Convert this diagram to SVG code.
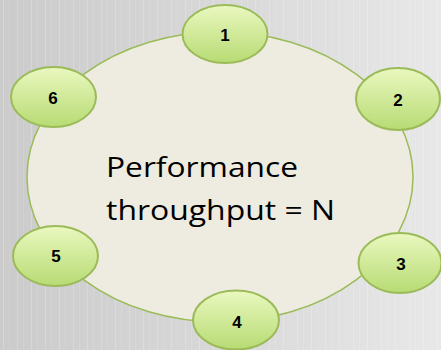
<svg xmlns="http://www.w3.org/2000/svg" width="441" height="350" viewBox="0 0 441 350">
  <defs>
    <linearGradient id="bg" x1="0" y1="0" x2="1" y2="0">
      <stop offset="0" stop-color="#cbcbcb"/>
      <stop offset="0.5" stop-color="#d8d8d8"/>
      <stop offset="1" stop-color="#e8e8e8"/>
    </linearGradient>
    <pattern id="stripes" x="0" y="0" width="14" height="350" patternUnits="userSpaceOnUse">
      <rect x="3" y="0" width="1" height="350" fill="#ffffff" opacity="0.2"/>
      <rect x="9" y="0" width="1" height="350" fill="#ffffff" opacity="0.1"/>
    </pattern>
    <linearGradient id="bubble" x1="0" y1="0" x2="0" y2="1">
      <stop offset="0" stop-color="#eaf8bf"/>
      <stop offset="1" stop-color="#b7db74"/>
    </linearGradient>
    <style>
      .hub { fill: #eeece1; stroke: #9bbb59; stroke-width: 1.5; }
      .node ellipse { fill: url(#bubble); stroke: #9bbb59; stroke-width: 2; }
      .node text { font-family: "Liberation Sans", Arial, sans-serif; font-weight: bold; font-size: 17px; fill: #000; text-anchor: middle; }
      .title { font-family: "Open Sans", "Noto Sans", sans-serif; font-size: 27px; fill: #000; }
    </style>
  </defs>

  <!-- backdrop -->
  <rect width="441" height="350" fill="url(#bg)"/>
  <rect width="441" height="350" fill="url(#stripes)"/>

  <!-- central cycle -->
  <g id="hub">
    <ellipse class="hub" cx="220" cy="177" rx="193" ry="145"/>
    <text class="title" x="106" y="177" textLength="192" lengthAdjust="spacingAndGlyphs">Performance</text>
    <text class="title" x="106" y="220" textLength="229" lengthAdjust="spacingAndGlyphs">throughput = N</text>
  </g>

  <g id="connectors"></g>

  <g id="node1" class="node">
    <ellipse cx="225" cy="34" rx="42.5" ry="29"/>
    <text x="225" y="41">1</text>
  </g>
  <g id="node2" class="node">
    <ellipse cx="398" cy="99" rx="42" ry="31"/>
    <text x="398" y="106">2</text>
  </g>
  <g id="node3" class="node">
    <ellipse cx="400" cy="263" rx="41.5" ry="30"/>
    <text x="401" y="270">3</text>
  </g>
  <g id="node4" class="node">
    <ellipse cx="236" cy="320" rx="43" ry="29.5"/>
    <text x="237" y="328">4</text>
  </g>
  <g id="node5" class="node">
    <ellipse cx="55.5" cy="256" rx="42.5" ry="30"/>
    <text x="56" y="262">5</text>
  </g>
  <g id="node6" class="node">
    <ellipse cx="53.5" cy="97" rx="42.5" ry="30"/>
    <text x="53" y="104">6</text>
  </g>
</svg>
